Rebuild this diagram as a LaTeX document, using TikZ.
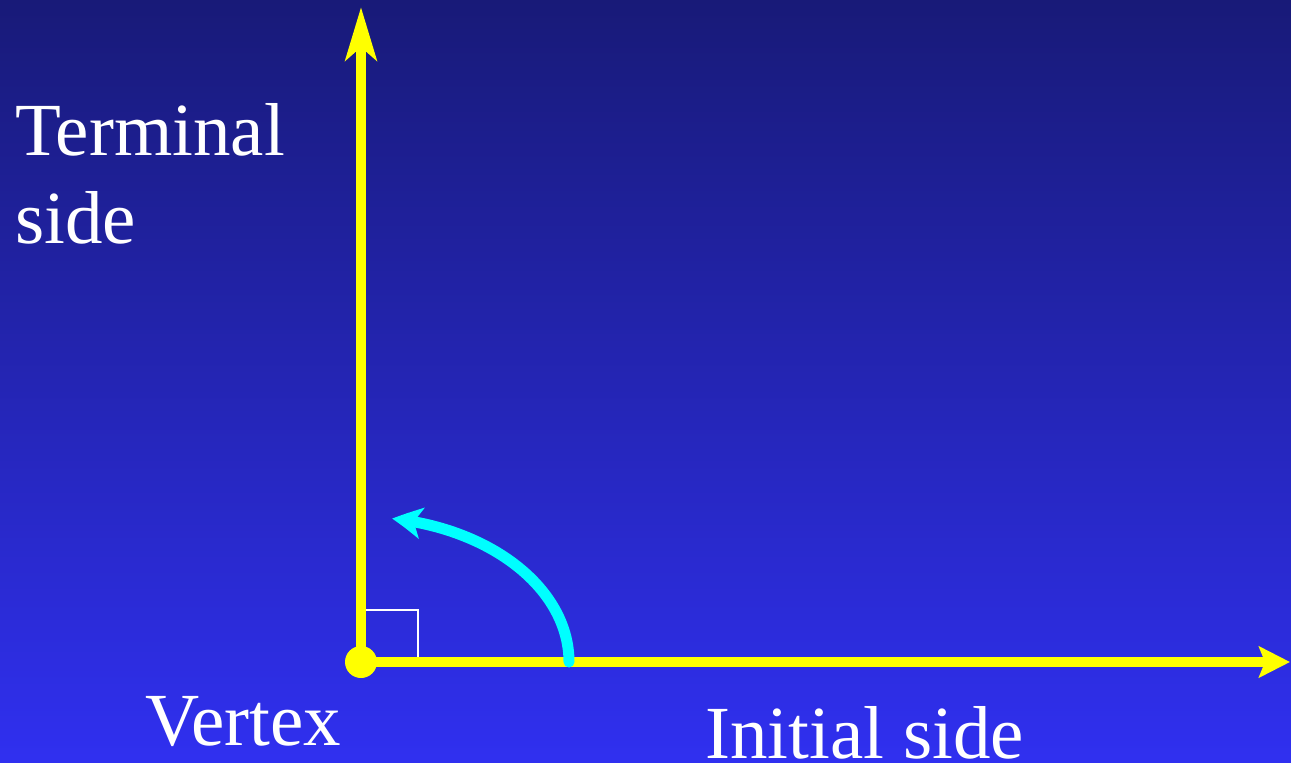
\documentclass[tikz,border=0pt]{standalone}
\usepackage{fontspec}
\setmainfont{Liberation Serif}
\usetikzlibrary{arrows.meta,bending}
\definecolor{bgtop}{RGB}{24,26,120}
\definecolor{bgbot}{RGB}{48,48,240}
\definecolor{axisyellow}{RGB}{255,255,0}
\definecolor{arccyan}{RGB}{0,255,255}
\tikzset{
  axisline/.style={draw=axisyellow, line width=10pt},
  label/.style={text=white, anchor=base west, inner sep=0pt, font=\fontsize{75}{80}\selectfont},
  rightmark/.style={draw=white, line width=2.5pt},
  turnarrow/.style={draw=arccyan, line width=11pt, line cap=round,
    -{Stealth[length=30pt,width=31pt,inset=8pt,bend]}},
}
\begin{document}
\begin{tikzpicture}[x=1pt,y=-1pt]
\useasboundingbox (0,0) rectangle (1291,763);
\shade[top color=bgtop, bottom color=bgbot] (0,0) rectangle (1291,763);
% right-angle mark
\coordinate (ra1) at (361,610);
\coordinate (ra2) at (418,610);
\coordinate (ra3) at (418,662);
\draw[rightmark] (ra1) -- (ra2) -- (ra3);
% vertex and axes
\node[circle, fill=axisyellow, minimum size=32pt, inner sep=0pt] (v) at (361,662) {};
\coordinate (ytip) at (361,7);
\coordinate (xtip) at (1290,662);
\draw[axisline, -{Stealth[length=53pt,width=31pt,inset=13pt]}] (v.center) -- (ytip);
\draw[axisline, -{Stealth[length=31pt,width=31pt,inset=6pt]}] (v.center) -- (xtip);
% angle arrow
\coordinate (arcstart) at (569,662);
\draw[turnarrow] (arcstart) arc[start angle=0, end angle=81.4, x radius=208, y radius=-145];
% labels
\node[label] (term) at (15,155) {Terminal};
\node[label] (side) at (15,243) {side};
\node[label] (vert) at (145,745) {Vertex};
\node[label] (init) at (705,758) {Initial side};
\end{tikzpicture}
\end{document}
